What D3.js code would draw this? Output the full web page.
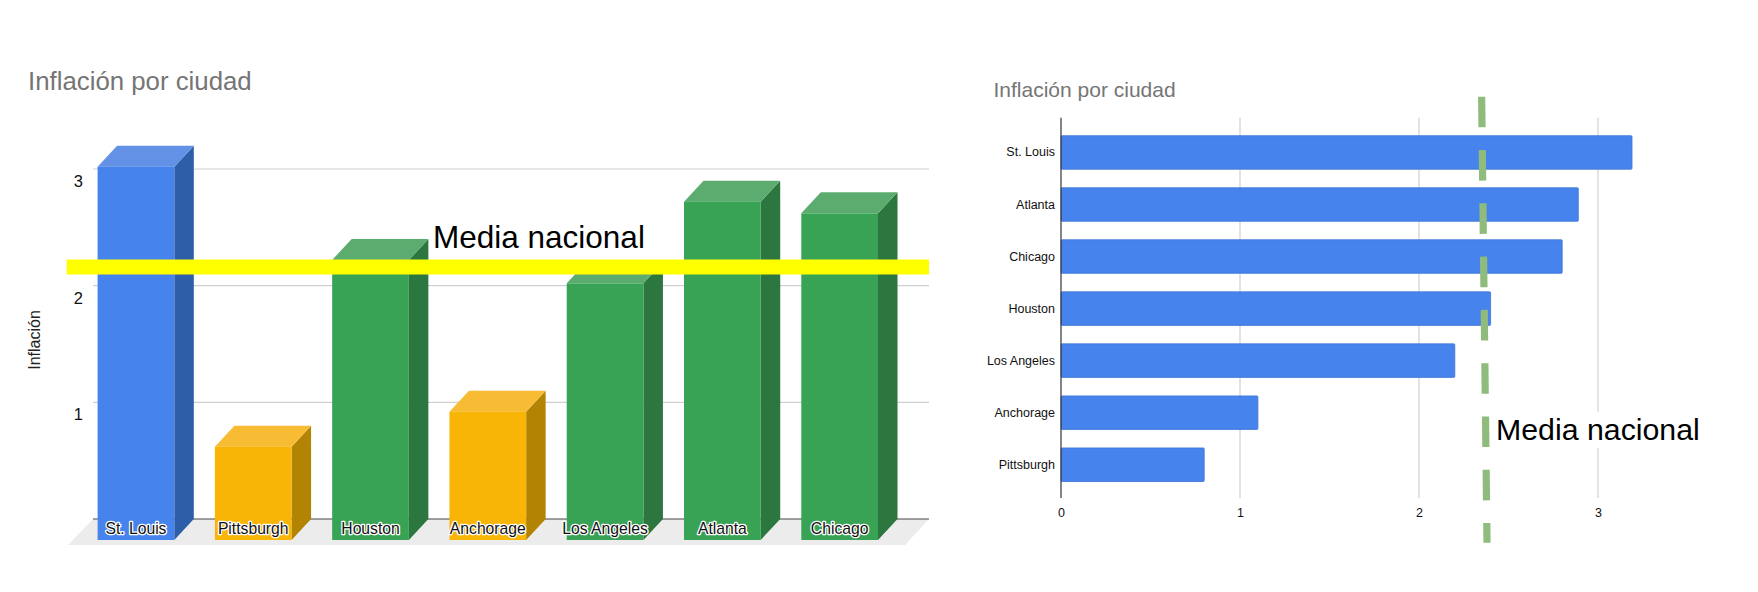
<!DOCTYPE html>
<html>
<head>
<meta charset="utf-8">
<script src="https://d3js.org/d3.v7.min.js"></script>
<style>
    html, body { margin: 0; padding: 0; background: #fff; }
    svg { display: block; font-family: "Liberation Sans", Arial, sans-serif; }
</style>
</head>
<body>
<svg id="chart" width="1758" height="592"></svg>
<script>
const CITIES_3D = ["St. Louis", "Pittsburgh", "Houston", "Anchorage", "Los Angeles", "Atlanta", "Chicago"];
const VALUES_3D = [3.2, 0.8, 2.4, 1.1, 2.2, 2.9, 2.8];
const GROUPS_3D = ["top", "low", "mid", "low", "mid", "mid", "mid"];
const CITIES_SORTED = ["St. Louis", "Atlanta", "Chicago", "Houston", "Los Angeles", "Anchorage", "Pittsburgh"];
const VALUES_SORTED = [3.19, 2.89, 2.8, 2.4, 2.2, 1.1, 0.8];
const TICKS_3D = [1, 2, 3];
const TICKS_BAR = [0, 1, 2, 3];
const MEDIA_3D = 2.34;
const MEDIA_BAR_ENDS = [2.35, 2.38];
const TITLE = "Inflación por ciudad";
const Y_TITLE = "Inflación";
const MEDIA_LABEL = "Media nacional";

const FACE_COLORS = { top: "#4683ec", mid: "#38a354", low: "#f9b506" };
const SIDE_COLORS = { top: "#2f5ea8", mid: "#2b773f", low: "#b38304" };
const LID_COLORS = { top: "#6391e6", mid: "#5cab6f", low: "#f7bc33" };

const svg = d3.select("#chart");

function drawColumns3d() {
    const depthX = 19.5;
    const depthY = 21;
    const gridLeft = 93;
    const gridRight = 929;

    // the front faces stand on frontY, the grid sits on the back wall
    const frontY = d3.scaleLinear().domain([0, 3]).range([540, 190]);
    const wallY = (value) => frontY(value) - depthY;
    const x = d3.scaleBand()
        .domain(CITIES_3D)
        .range([97.6, 878])
        .paddingInner(0.346)
        .paddingOuter(0);
    const w = x.bandwidth();
    const g = svg.append("g");

    g.append("text")
        .attr("x", 28)
        .attr("y", 90)
        .attr("font-size", 25.8)
        .attr("fill", "#757575")
        .text(TITLE);

    g.append("polygon")
        .attr("points", [
            [gridLeft, wallY(0)], [gridRight, wallY(0)],
            [gridRight - 24, frontY(0) + 5], [gridLeft - 25, frontY(0) + 5]
        ].join(" "))
        .attr("fill", "#ececec");

    g.selectAll("line.grid")
        .data(TICKS_3D)
        .join("line")
        .attr("class", "grid")
        .attr("x1", gridLeft)
        .attr("x2", gridRight)
        .attr("y1", (d) => wallY(d))
        .attr("y2", (d) => wallY(d))
        .attr("stroke", "#cfcfcf")
        .attr("stroke-width", 1.2);

    g.append("line")
        .attr("x1", gridLeft)
        .attr("x2", gridRight)
        .attr("y1", wallY(0))
        .attr("y2", wallY(0))
        .attr("stroke", "#444")
        .attr("stroke-width", 1.2);

    const yAxis = d3.axisLeft(frontY).tickValues(TICKS_3D).tickSize(0).tickPadding(0).tickFormat(d3.format("d"));
    const yAxisGroup = g.append("g").attr("transform", "translate(83,0)").call(yAxis);
    yAxisGroup.select(".domain").remove();
    yAxisGroup.selectAll("text")
        .attr("dy", "-3.5px")
        .attr("font-family", "Liberation Sans, Arial, sans-serif")
        .attr("font-size", 16.5)
        .attr("fill", "#111");

    g.append("text")
        .attr("transform", "translate(40,340) rotate(-90)")
        .attr("text-anchor", "middle")
        .attr("font-size", 16)
        .attr("fill", "#222")
        .text(Y_TITLE);

    const rows = CITIES_3D.map((city, index) => ({ city, value: VALUES_3D[index], group: GROUPS_3D[index] }));
    const bars = g.selectAll("g.column").data(rows).join("g").attr("class", "column");

    bars.append("polygon")
        .attr("fill", (d) => SIDE_COLORS[d.group])
        .attr("points", (d) => {
            const right = x(d.city) + w;
            return [
                [right, frontY(d.value)], [right + depthX, frontY(d.value) - depthY],
                [right + depthX, frontY(0) - depthY], [right, frontY(0)]
            ].join(" ");
        });

    bars.append("polygon")
        .attr("fill", (d) => LID_COLORS[d.group])
        .attr("points", (d) => {
            const left = x(d.city);
            const top = frontY(d.value);
            return [
                [left, top], [left + depthX, top - depthY],
                [left + w + depthX, top - depthY], [left + w, top]
            ].join(" ");
        });

    bars.append("rect")
        .attr("x", (d) => x(d.city))
        .attr("y", (d) => frontY(d.value))
        .attr("width", w)
        .attr("height", (d) => frontY(0) - frontY(d.value))
        .attr("fill", (d) => FACE_COLORS[d.group]);

    bars.append("text")
        .attr("x", (d) => x(d.city) + w / 2)
        .attr("y", frontY(0) - 6)
        .attr("text-anchor", "middle")
        .attr("font-size", 15.7)
        .attr("fill", "#111")
        .attr("stroke", "#fff")
        .attr("stroke-width", 2.6)
        .attr("stroke-linejoin", "round")
        .attr("paint-order", "stroke")
        .text((d) => d.city);

    g.append("line")
        .attr("x1", 66.7)
        .attr("x2", gridRight)
        .attr("y1", frontY(MEDIA_3D))
        .attr("y2", frontY(MEDIA_3D))
        .attr("stroke", "#ffff00")
        .attr("stroke-width", 15);

    g.append("text")
        .attr("x", 433)
        .attr("y", 248)
        .attr("font-size", 31.5)
        .attr("fill", "#000")
        .text(MEDIA_LABEL);
}

function drawBars() {
    const x = d3.scaleLinear().domain([0, 3]).range([1061, 1598]);
    const y = d3.scaleBand()
        .domain(CITIES_SORTED)
        .range([135.7, 481.5])
        .paddingInner(0.355)
        .paddingOuter(0);
    const plotTop = 117.7;
    const plotBottom = 498;
    const g = svg.append("g");

    g.append("text")
        .attr("x", 993.5)
        .attr("y", 97)
        .attr("font-size", 21)
        .attr("fill", "#757575")
        .text(TITLE);

    g.selectAll("line.grid")
        .data(TICKS_BAR.filter((d) => d > 0))
        .join("line")
        .attr("class", "grid")
        .attr("x1", (d) => x(d))
        .attr("x2", (d) => x(d))
        .attr("y1", plotTop)
        .attr("y2", plotBottom)
        .attr("stroke", "#d0d0d0")
        .attr("stroke-width", 1.2);

    g.selectAll("rect.bar")
        .data(CITIES_SORTED)
        .join("rect")
        .attr("class", "bar")
        .attr("x", x(0))
        .attr("y", (d) => y(d))
        .attr("width", (d, i) => x(VALUES_SORTED[i]) - x(0))
        .attr("height", y.bandwidth())
        .attr("rx", 1)
        .attr("fill", "#4683ec")
        .attr("stroke", "#3f75d6")
        .attr("stroke-width", 0.8);

    g.append("line")
        .attr("x1", x(0))
        .attr("x2", x(0))
        .attr("y1", plotTop)
        .attr("y2", plotBottom)
        .attr("stroke", "#333")
        .attr("stroke-width", 1.2);

    const xAxis = d3.axisBottom(x).tickValues(TICKS_BAR).tickSize(0).tickPadding(0).tickFormat(d3.format("d"));
    const xAxisGroup = g.append("g").attr("transform", `translate(0,${plotBottom})`).call(xAxis);
    xAxisGroup.select(".domain").remove();
    xAxisGroup.selectAll("text")
        .attr("y", 19)
        .attr("dy", 0)
        .attr("font-family", "Liberation Sans, Arial, sans-serif")
        .attr("font-size", 12.5)
        .attr("fill", "#111");

    const yAxis = d3.axisLeft(y).tickSize(0).tickPadding(0);
    const yAxisGroup = g.append("g").attr("transform", `translate(${x(0) - 6},0)`).call(yAxis);
    yAxisGroup.select(".domain").remove();
    yAxisGroup.selectAll("text")
        .attr("font-family", "Liberation Sans, Arial, sans-serif")
        .attr("font-size", 12.5)
        .attr("fill", "#111");

    // white patch of the pasted label hides the gridline behind it
    g.append("rect")
        .attr("x", 1490)
        .attr("y", 411.7)
        .attr("width", 212)
        .attr("height", 36.5)
        .attr("fill", "#fff");

    g.append("line")
        .attr("x1", x(MEDIA_BAR_ENDS[0]))
        .attr("x2", x(MEDIA_BAR_ENDS[1]))
        .attr("y1", 96.7)
        .attr("y2", 542.7)
        .attr("stroke", "#8fbc7c")
        .attr("stroke-width", 7.2)
        .attr("stroke-dasharray", "30.6 22.7");

    g.append("text")
        .attr("x", 1496)
        .attr("y", 440)
        .attr("font-size", 30.3)
        .attr("fill", "#000")
        .text(MEDIA_LABEL);
}

drawColumns3d();
drawBars();
</script>
</body>
</html>
